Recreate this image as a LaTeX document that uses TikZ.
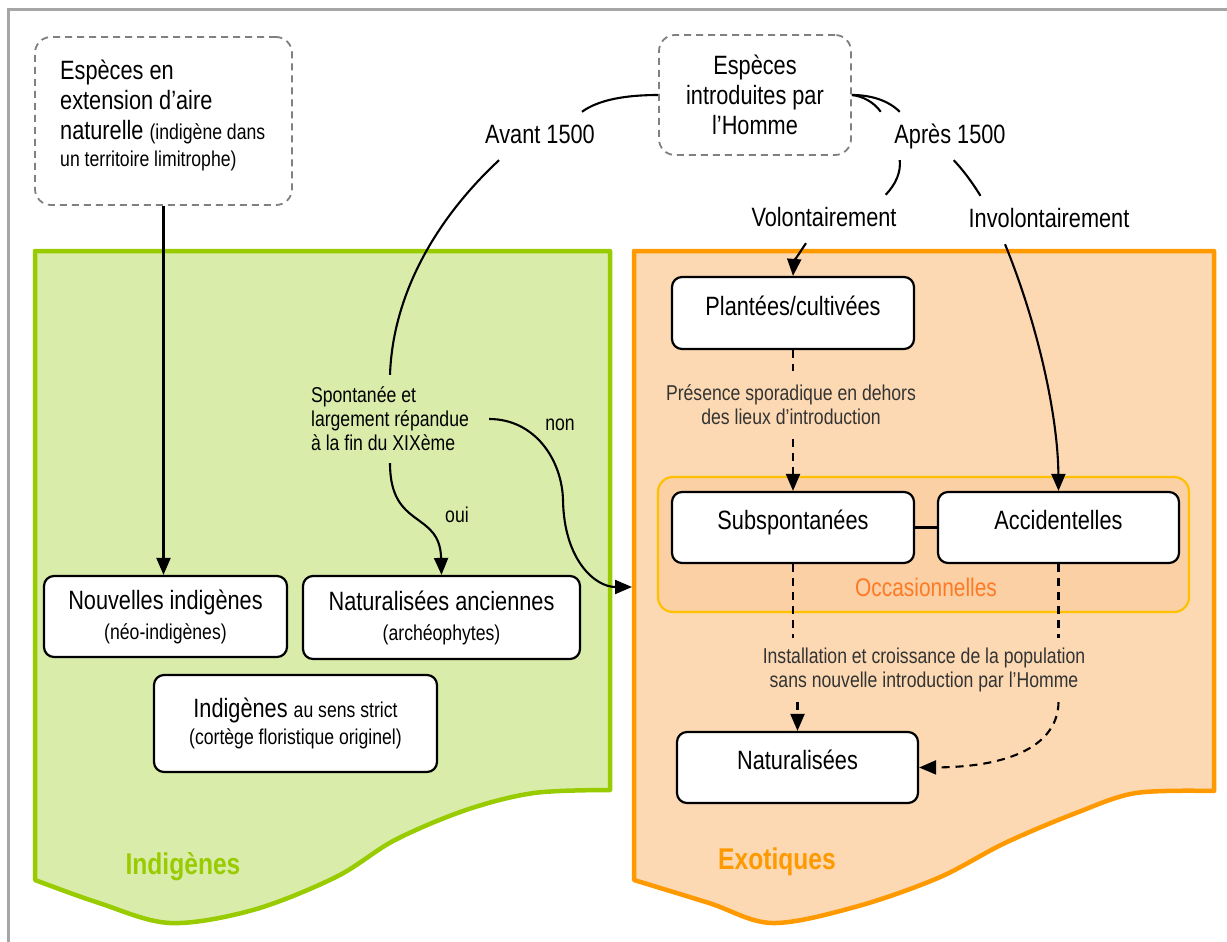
\documentclass[tikz,border=0pt]{standalone}
\usepackage{fontspec}
\setmainfont{Liberation Sans}[FakeStretch=0.82]
\usetikzlibrary{arrows.meta}
\definecolor{grnline}{HTML}{99CC00}
\definecolor{grnfill}{HTML}{D9ECAA}
\definecolor{orline}{HTML}{FF9900}
\definecolor{orfill}{HTML}{FCD9B2}
\definecolor{occline}{HTML}{FFC000}
\definecolor{occfill}{HTML}{FAD0A4}
\definecolor{occtext}{HTML}{FF7A26}
\definecolor{framegray}{HTML}{A6A6A6}
\definecolor{dashgray}{HTML}{808080}
\definecolor{lbltext}{HTML}{333333}
\newcommand{\smtxt}[1]{{\fontsize{21.5}{24}\selectfont #1}}
\begin{document}
\begin{tikzpicture}[x=1pt,y=-1pt,
  bigfont/.style={font=\fontsize{26.5}{30}\selectfont},
  smfont/.style={font=\fontsize{21.5}{24}\selectfont},
  dbox/.style={draw=dashgray, line width=1.8pt, dash pattern=on 7pt off 5pt, rounded corners=16pt, bigfont},
  wbox/.style={draw=black, fill=white, line width=2.2pt, rounded corners=10pt, bigfont, align=center},
  sbox/.style={wbox, text height=19pt, text depth=15pt},
  lbl/.style={bigfont, inner xsep=8pt, inner ysep=12pt, text height=19pt, text depth=5pt},
  lblsm/.style={smfont, inner xsep=20pt, inner ysep=12pt},
  conn/.style={line width=2.1pt, black},
  dashln/.style={conn, dash pattern=on 8pt off 6pt},
  arr/.style={-{Triangle[length=17pt,width=14pt]}}
]
\useasboundingbox (0,0) rectangle (1227,942);
% outer frame
\draw[framegray, line width=2.2pt] (1227,9.5) -- (8.5,9.5) -- (8.5,942);
% regions
\draw[grnline, fill=grnfill, line width=4.5pt, line join=round]
  (35,880) -- (35,251) -- (610,251) -- (610,790)
  -- plot[smooth, tension=0.55] coordinates {(610,790) (534,793) (466,810) (395,840) (336,877) (253,910) (170,923) (99,903) (35,880)} -- cycle;
\draw[orline, fill=orfill, line width=4.5pt, line join=round]
  (634,880) -- (634,251) -- (1214,251) -- (1214,791)
  -- plot[smooth, tension=0.55] coordinates {(1214,791) (1136,793) (1076,813) (1005,843) (938,878) (855,907) (772,923) (709,903) (634,880)} -- cycle;
\node[draw=occline, fill=occfill, line width=2.2pt, rounded corners=15pt, minimum width=531pt, minimum height=135pt] (occ) at (923.5,544.5) {};
\node[font=\fontsize{25.5}{30}\selectfont, text=occtext] (occl) at (926,587) {Occasionnelles};
\node[font=\fontsize{30}{36}\selectfont\bfseries, text=grnline] (indl) at (183,867) {Indigènes};
\node[font=\fontsize{30}{36}\selectfont\bfseries, text=orline] (exol) at (777,862) {Exotiques};
% top boxes
\node[dbox, minimum width=257pt, minimum height=168pt] (b1) at (163.5,121) {};
\node[bigfont, anchor=north west, align=left, inner sep=0pt] (b1t) at (60,60)
  {Espèces en\\extension d’aire\\naturelle \smtxt{(indigène dans}\\[-3pt]\smtxt{un territoire limitrophe)}};
\node[dbox, minimum width=192pt, minimum height=120pt, align=center] (b2) at (755,95)
  {Espèces\\introduites par\\l’Homme};
% labels
\node[lbl] (avant) at (540,136) {Avant 1500};
\node[lbl] (apres) at (950,136) {Après 1500};
\node[lbl] (vol) at (824,219) {Volontairement};
\node[lbl] (invol) at (1049,220) {Involontairement};
\node[lblsm, align=left] (spont) at (390,419) {Spontanée et\\largement répandue\\à la fin du XIXème};
\node[smfont] (oui) at (457,515) {oui};
\node[smfont] (non) at (560,425) {non};
\node[smfont, text=lbltext, align=center, inner ysep=14pt] (pres) at (791,405) {Présence sporadique en dehors\\des lieux d’introduction};
\node[smfont, text=lbltext, align=center, inner ysep=10pt] (inst) at (924,670) {Installation et croissance de la population\\sans nouvelle introduction par l’Homme};
% boxes
\node[wbox, minimum width=243pt, minimum height=81pt] (nouv) at (165.5,616.5) {Nouvelles indigènes\\\smtxt{(néo-indigènes)}};
\node[wbox, minimum width=277pt, minimum height=83pt] (natanc) at (441.5,617.5) {Naturalisées anciennes\\\smtxt{(archéophytes)}};
\node[wbox, minimum width=283pt, minimum height=97pt] (strict) at (295.5,723.5) {Indigènes \smtxt{au sens strict}\\[-3pt]\smtxt{(cortège floristique originel)}};
\node[sbox, minimum width=242pt, minimum height=72pt] (plant) at (793,313) {Plantées/cultivées};
\node[sbox, minimum width=242pt, minimum height=71pt] (subsp) at (793,527.5) {Subspontanées};
\node[sbox, minimum width=241pt, minimum height=71pt] (accid) at (1058.5,527.5) {Accidentelles};
\node[sbox, minimum width=241pt, minimum height=71pt] (nat) at (797.5,767.5) {Naturalisées};
\coordinate (exoin) at (632,587);
% connectors
\draw[conn, arr] (b1.south) -- (b1.south |- nouv.north);
\draw[conn] (b2.west) .. controls (625,95) and (598,100) .. ([xshift=-21pt]avant.north east);
\draw[conn] ([xshift=22pt]avant.south west) .. controls (440,215) and (393,290) .. (spont.north);
\draw[conn, arr] (spont.south) .. controls (390,530) and (440,510) .. (natanc.north);
\draw[conn, arr] (spont.east) .. controls (535,419) and (562,460) .. (563,500) .. controls (564,560) and (595,587) .. (exoin);
\draw[conn] (b2.east) .. controls (870,95) and (888,100) .. ([xshift=13.5pt]apres.north west);
\draw[conn] (b2.east) .. controls (862,96) and (874,102) .. ([xshift=-5.5pt]apres.north west);
\draw[conn] ([xshift=13.5pt]apres.south west) .. controls (901,172) and (896,184) .. ([xshift=-19pt]vol.north east);
\draw[conn] ([xshift=67.5pt]apres.south west) .. controls (963,170) and (972,182) .. ([xshift=20pt]invol.north west);
\draw[conn, arr] ([xshift=-18pt]vol.south) .. controls (800,252) and (794,262) .. (plant.north);
\draw[conn, arr] ([xshift=-44pt]invol.south) .. controls (1040,330) and (1058,420) .. (accid.north);
\draw[dashln] (plant.south) -- (plant.south |- pres.north);
\draw[dashln, arr] (subsp.north |- pres.south) -- (subsp.north);
\draw[conn] (subsp.east) -- (accid.west);
\draw[dashln] (subsp.south) -- (subsp.south |- inst.north);
\draw[dashln, arr] (nat.north |- inst.south) -- (nat.north);
\draw[dashln] (accid.south) -- (accid.south |- inst.north);
\draw[dashln, arr] (accid.south |- inst.south) .. controls (1058,740) and (1020,767) .. (nat.east);
\end{tikzpicture}
\end{document}
